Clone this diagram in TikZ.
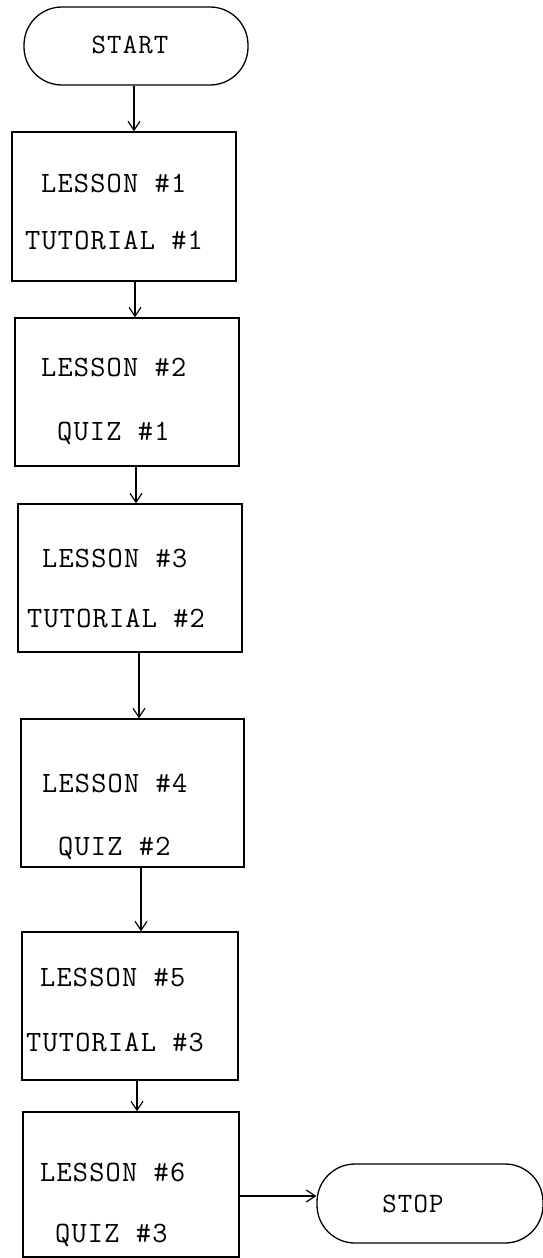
\documentclass[tikz,border=0pt]{standalone}
\usepackage{fontspec}
\newfontfamily\twfont{Latin Modern Mono}[LetterSpace=4]
\usetikzlibrary{arrows.meta}
\begin{document}
\begin{tikzpicture}[x=1pt,y=-1pt,
  box/.style={draw,line width=1.3pt,inner sep=0pt},
  term/.style={draw,line width=1.3pt,inner sep=0pt,rounded corners=38pt},
  lbl/.style={font=\twfont\fontsize{29.5}{29.5}\selectfont,inner sep=0pt,anchor=west},
  clbl/.style={font=\twfont\fontsize{28}{28}\selectfont,inner sep=0pt},
  arr/.style={line width=1.2pt,-{Straight Barb[length=9pt,width=12pt]}}]
\useasboundingbox (0,0) rectangle (542,1258);
% terminals
\node[term,minimum width=224pt,minimum height=78pt] (start) at (136,46) {};
\node[clbl] (starttxt) at (130,45) {START};
\node[term,minimum width=226pt,minimum height=79pt] (stop) at (430,1203.5) {};
\node[clbl] (stoptxt) at (413,1204) {STOP};
% boxes
\node[box,minimum width=224pt,minimum height=149pt] (b1) at (124,206.5) {};
\node[box,minimum width=224pt,minimum height=148pt] (b2) at (127,392) {};
\node[box,minimum width=224pt,minimum height=148pt] (b3) at (130,578) {};
\node[box,minimum width=223pt,minimum height=148pt] (b4) at (132.5,793) {};
\node[box,minimum width=216pt,minimum height=148pt] (b5) at (130,1006) {};
\node[box,minimum width=216pt,minimum height=145pt] (b6) at (131,1184.5) {};
% texts
\node[lbl] (l1) at (41,183) {LESSON \#1};
\node[lbl] (t1) at (25,240) {TUTORIAL \#1};
\node[lbl] (l2) at (41,367) {LESSON \#2};
\node[lbl] (q1) at (57,433) {QUIZ \#1};
\node[lbl] (l3) at (42,558) {LESSON \#3};
\node[lbl] (t2) at (27,618) {TUTORIAL \#2};
\node[lbl] (l4) at (42,783) {LESSON \#4};
\node[lbl] (q2) at (58,848) {QUIZ \#2};
\node[lbl] (l5) at (40,977) {LESSON \#5};
\node[lbl] (t3) at (26,1042) {TUTORIAL \#3};
\node[lbl] (l6) at (40,1172) {LESSON \#6};
\node[lbl] (q3) at (55,1235) {QUIZ \#3};
% connectors
\draw[arr] (start.south -| 134,0) -- (b1.north -| 134,0);
\draw[arr] (b1.south -| 135,0) -- (b2.north -| 135,0);
\draw[arr] (b2.south -| 136,0) -- (b3.north -| 136,0);
\draw[arr] (b3.south -| 139,0) -- (b4.north -| 139,0);
\draw[arr] (b4.south -| 141,0) -- (b5.north -| 141,0);
\draw[arr] (b5.south -| 137,0) -- (b6.north -| 137,0);
\draw[arr] (b6.east |- 0,1196) -- (stop.west |- 0,1196);
\end{tikzpicture}
\end{document}
